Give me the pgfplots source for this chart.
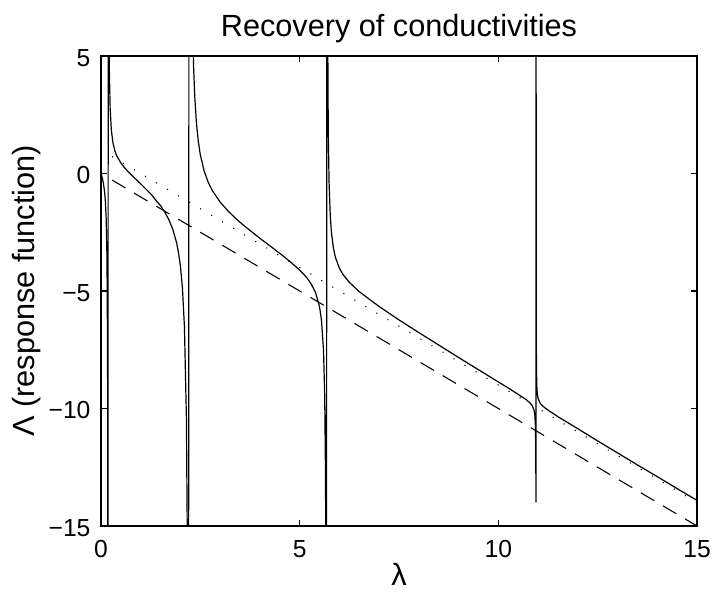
\documentclass[border=0pt]{standalone}
\usepackage{fontspec}
\setmainfont{Liberation Sans}
\usepackage{pgfplots}
\pgfplotsset{compat=1.18}
\begin{document}
\begin{tikzpicture}
\begin{axis}[
    at={(0,0)}, anchor=south west,
    width=447pt, height=352.5pt,
    scale only axis,
    xmin=0, xmax=15,
    ymin=-15, ymax=5,
    xtick={0,5,10,15},
    ytick={-15,-10,-5,0,5},
    xticklabels={0,5,10,15},
    yticklabels={−15,−10,−5,0,5},
    tick align=inside,
    major tick length=4.5pt,
    tick style={black, line width=0.8pt},
    axis line style={line width=1pt},
    ticklabel style={font=\fontsize{18.5}{20}\selectfont, inner sep=0pt},
    xticklabel style={anchor=base, yshift=-24pt},
    yticklabel style={anchor=east, xshift=-7.7pt, yshift=-1.5pt},
    title={Recovery of conductivities},
    title style={font=\fontsize{23}{26}\selectfont, at={(0.5,1)}, anchor=base, yshift=8.25pt, inner sep=0pt},
    xlabel={λ},
    xlabel style={font=\fontsize{23}{26}\selectfont, at={(0.5,-0.127)}, anchor=base, inner sep=0pt},
    ylabel={Λ (response function)},
    ylabel style={font=\fontsize{23}{26}\selectfont, at={(-0.112,0.5)}, anchor=base, inner sep=0pt},
]
% dashed reference line
\addplot[black, line width=0.8pt, dash pattern=on 11.6pt off 7.6pt] coordinates {
    (0.28,-0.28) (15,-15)
};
% dotted reference line
\addplot[black, line width=0.8pt, dash pattern=on 0.8pt off 8.8pt] coordinates {
    (0,1) (15,-14)
};
% response function
\addplot[black, line width=0.9pt] coordinates {
    (0,-0.005) (0.03,-0.17) (0.06,-0.41) (0.09,-0.78) (0.11,-1.18) (0.13,-1.89)
    (0.15,-3.51) (0.165,-7.53) (0.172,-14.5) (0.176,-29.5)
    (0.184,30.5) (0.19,12.44) (0.2,6.43) (0.21,4.42) (0.23,2.80) (0.26,1.86)
    (0.3,1.31) (0.35,0.96) (0.4,0.74) (0.5,0.45) (0.6,0.23) (0.7,0.05)
    (0.8,-0.12) (0.9,-0.28) (1.0,-0.44) (1.1,-0.61) (1.2,-0.78) (1.3,-0.96)
    (1.4,-1.18) (1.5,-1.37) (1.6,-1.63) (1.7,-1.94) (1.8,-2.34) (1.9,-2.93)
    (1.95,-3.36) (2.0,-3.96) (2.05,-4.88) (2.1,-6.53) (2.15,-10.45) (2.18,-17.44) (2.2,-33.7)
    (2.23,63.7) (2.24,31.2) (2.26,14.97) (2.28,9.53) (2.3,6.81) (2.33,4.56)
    (2.36,3.26) (2.4,2.19) (2.45,1.35) (2.5,0.79) (2.6,0.08) (2.7,-0.38)
    (2.8,-0.72) (3.0,-1.22) (3.2,-1.60) (3.4,-1.93) (3.6,-2.22) (3.8,-2.49)
    (4.0,-2.76) (4.2,-3.01) (4.4,-3.27) (4.6,-3.53) (4.8,-3.81) (5.0,-4.11)
    (5.1,-4.28) (5.2,-4.48) (5.3,-4.73) (5.4,-5.07) (5.5,-5.67) (5.55,-6.26)
    (5.6,-7.52) (5.63,-9.42) (5.65,-12.78) (5.66,-16.95) (5.67,-29.5)
    (5.69,20.5) (5.7,8.0) (5.72,1.73) (5.74,-0.37) (5.77,-1.79) (5.8,-2.52)
    (5.85,-3.18) (5.9,-3.57) (6.0,-4.03) (6.1,-4.32) (6.25,-4.63) (6.5,-5.03)
    (7.0,-5.66) (7.5,-6.23) (8.0,-6.77) (8.5,-7.30) (9.0,-7.83) (9.5,-8.35)
    (10.0,-8.87) (10.3,-9.18) (10.5,-9.40) (10.7,-9.62) (10.8,-9.77) (10.85,-9.87)
    (10.9,-10.07) (10.92,-10.29) (10.935,-10.81) (10.943,-12.0) (10.946,-14.0)
    (10.9505,25) (10.952,-2.32) (10.955,-6.82) (10.96,-8.33) (10.97,-9.09)
    (10.98,-9.35) (11.0,-9.57) (11.05,-9.77) (11.1,-9.87) (11.2,-10.01)
    (11.5,-10.35) (12.0,-10.86) (12.5,-11.38) (13.0,-11.89) (13.5,-12.40)
    (14.0,-12.90) (14.5,-13.41) (15.0,-13.91)
};
\end{axis}
\pgfresetboundingbox
\path[use as bounding box] (-75.75pt,-50.25pt) rectangle (459.75pt,394.5pt);
\end{tikzpicture}
\end{document}
